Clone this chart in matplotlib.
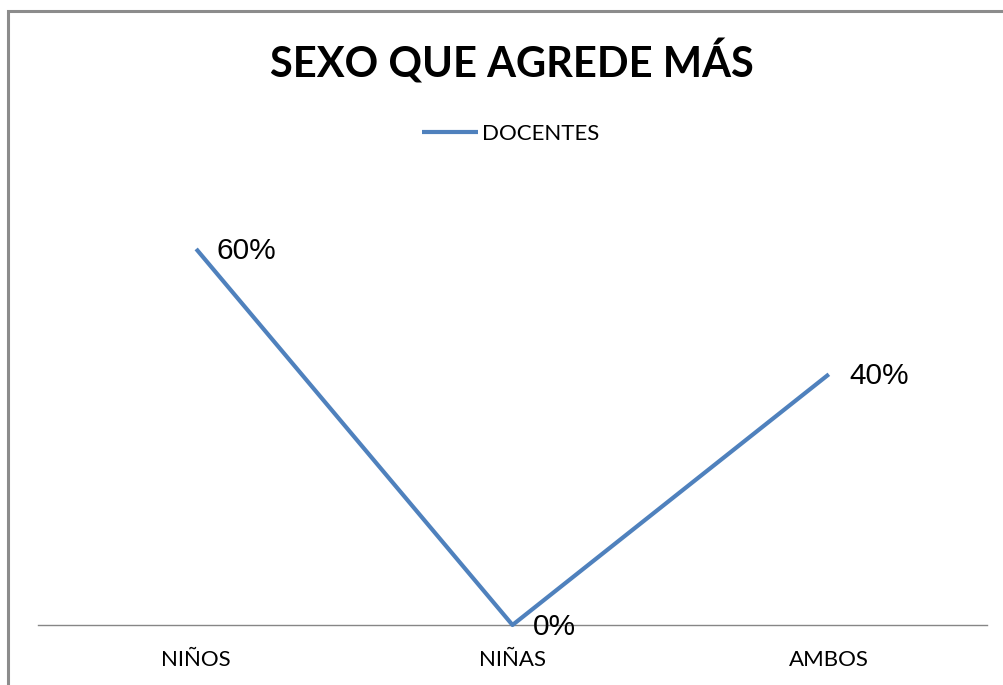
import matplotlib.pyplot as plt
from matplotlib.patches import Rectangle
from matplotlib.ticker import NullLocator

categories = ["NIÑOS", "NIÑAS", "AMBOS"]
docentes = [0.60, 0.00, 0.40]
value_labels = ["60%", "0%", "40%"]

LINE_COLOR = "#4F81BD"

fig = plt.figure(figsize=(10.04, 6.85), dpi=100)

# chart border (only top and left visible in the reference)
fig.patches.append(
    Rectangle((8 / 1004, -0.1), 1.2, 1 - 11 / 685 + 0.1,
              transform=fig.transFigure, fill=False,
              edgecolor="#8C8C8C", linewidth=2.2, zorder=0)
)

ax = fig.add_axes([38 / 1004, 60 / 685, (987 - 38) / 1004, 440 / 685])
x = range(len(categories))
ax.plot(x, docentes, color=LINE_COLOR, linewidth=3.0,
        solid_capstyle="butt", label="DOCENTES", clip_on=False, zorder=3)

ax.set_xlim(-0.5, 2.5)
ax.set_ylim(0, 0.702)

for i, (v, lab) in enumerate(zip(docentes, value_labels)):
    ax.annotate(lab, (i, v), xytext=(15, -1.5), textcoords="offset points",
                ha="left", va="center", fontsize=21.5,
                family="Liberation Sans", color="black", zorder=4)

for side in ["top", "right", "left"]:
    ax.spines[side].set_visible(False)
ax.spines["bottom"].set_color("#868686")
ax.spines["bottom"].set_linewidth(1.0)
ax.yaxis.set_major_locator(NullLocator())

ax.set_xticks(list(x))
ax.set_xticklabels(categories, fontsize=16, family="Lato")
ax.tick_params(axis="x", length=0, pad=18)

fig.text(512 / 1004, 1 - 62 / 685, "SEXO QUE AGREDE MÁS", ha="center",
         va="center", fontsize=30, fontweight="bold", family="Lato")

fig.legend(loc="center", bbox_to_anchor=(511 / 1004, 1 - 134 / 685),
           frameon=False, prop={"family": "Lato", "size": 16},
           handlelength=2.5, handletextpad=0.2)

fig.savefig("out.png", dpi=100)
